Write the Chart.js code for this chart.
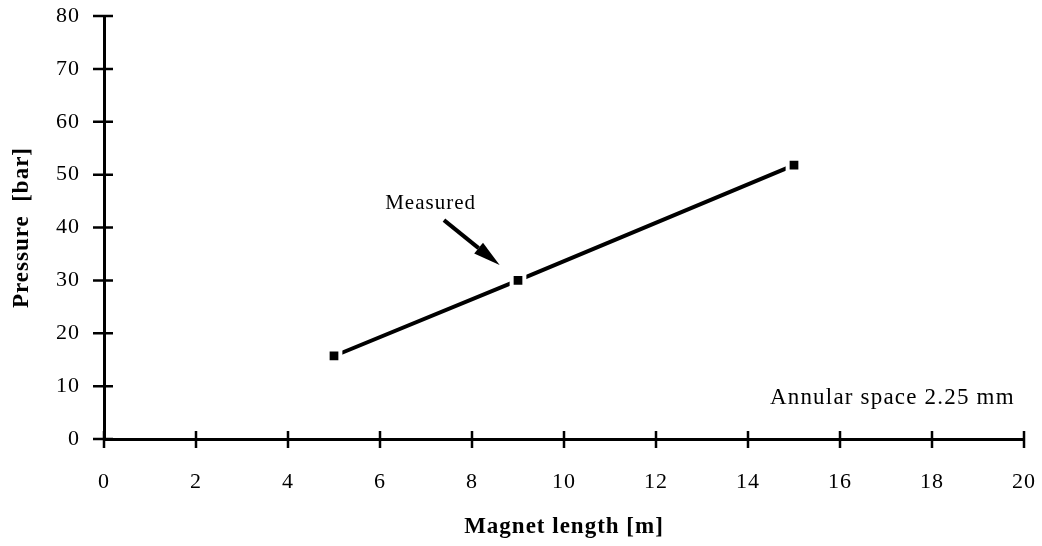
<!DOCTYPE html>
<html>
<head>
<meta charset="utf-8">
<script src="https://cdn.jsdelivr.net/npm/chart.js@4"></script>
<style>
  html, body { margin: 0; padding: 0; background: #fff; }
  #wrap { width: 1042px; height: 546px; }
</style>
</head>
<body>
<div id="wrap"><canvas id="pressure-chart"></canvas></div>
<script>
// magnet length [m] vs. pressure [bar]
const magnetLength = [5, 9, 15];
const pressure = [15.7, 30, 51.8];
const xTicks = [0, 2, 4, 6, 8, 10, 12, 14, 16, 18, 20];
const yTicks = [0, 10, 20, 30, 40, 50, 60, 70, 80];

const SERIF = '"Liberation Serif", "Times New Roman", serif';

// canvas state gets reset on resize, so re-apply the spacing before layout and draw
const spacing = {
  id: 'spacing',
  beforeUpdate(chart) { chart.ctx.letterSpacing = '1px'; },
  beforeDraw(chart) { chart.ctx.letterSpacing = '1px'; },
};

// ticks that cross both sides of the axis lines
const crossTicks = {
  id: 'crossTicks',
  afterDraw(chart) {
    const { ctx, scales: { x, y } } = chart;
    ctx.save();
    ctx.strokeStyle = '#000';
    ctx.lineWidth = 2.5;
    ctx.beginPath();
    xTicks.forEach(v => {
      const px = x.getPixelForValue(v);
      ctx.moveTo(px, y.bottom - 8);
      ctx.lineTo(px, y.bottom + 9);
    });
    yTicks.forEach(v => {
      const py = y.getPixelForValue(v);
      ctx.moveTo(x.left - 11, py);
      ctx.lineTo(x.left + 9, py);
    });
    ctx.stroke();
    ctx.restore();
  }
};

// "Measured" arrow and the annular space note
const notes = {
  id: 'notes',
  afterDraw(chart) {
    const { ctx, scales: { x, y } } = chart;
    ctx.save();
    ctx.letterSpacing = '1px';
    ctx.fillStyle = '#000';
    ctx.strokeStyle = '#000';
    ctx.textBaseline = 'middle';

    ctx.font = '21px ' + SERIF;
    ctx.textAlign = 'center';
    ctx.fillText('Measured', x.getPixelForValue(7.1), y.getPixelForValue(44.6));

    const x0 = x.getPixelForValue(7.39), y0 = y.getPixelForValue(41.4);
    const x1 = x.getPixelForValue(8.6), y1 = y.getPixelForValue(32.9);
    const ang = Math.atan2(y1 - y0, x1 - x0);
    const head = 27, half = 7;
    const bx = x1 - head * Math.cos(ang), by = y1 - head * Math.sin(ang);
    ctx.lineWidth = 4;
    ctx.beginPath();
    ctx.moveTo(x0, y0);
    ctx.lineTo(bx, by);
    ctx.stroke();
    ctx.beginPath();
    ctx.moveTo(x1, y1);
    ctx.lineTo(bx + half * Math.sin(ang), by - half * Math.cos(ang));
    ctx.lineTo(bx - half * Math.sin(ang), by + half * Math.cos(ang));
    ctx.closePath();
    ctx.fill();

    ctx.font = '23px ' + SERIF;
    ctx.letterSpacing = '1.2px';
    ctx.textAlign = 'right';
    ctx.fillText('Annular space 2.25 mm', x.getPixelForValue(19.8), y.getPixelForValue(7.7));
    ctx.restore();
  }
};

new Chart(document.getElementById('pressure-chart'), {
  type: 'line',
  data: {
    datasets: [{
      label: 'Measured',
      data: magnetLength.map((v, i) => ({ x: v, y: pressure[i] })),
      borderColor: '#000',
      borderWidth: 4,
      tension: 0,
      pointStyle: 'rect',
      pointRadius: 9,
      pointBackgroundColor: '#000',
      pointBorderColor: '#fff',
      pointBorderWidth: 4,
    }]
  },
  options: {
    responsive: true,
    maintainAspectRatio: false,
    animation: false,
    events: [],
    layout: { padding: { top: 16, right: 18, left: 0, bottom: 0 } },
    plugins: { legend: { display: false }, tooltip: { enabled: false } },
    scales: {
      x: {
        type: 'linear',
        min: 0, max: 20,
        afterFit(scale) { scale.height = 107; scale.paddingLeft = 0; scale.paddingRight = 0; },
        afterBuildTicks(scale) { scale.ticks = xTicks.map(v => ({ value: v })); },
        grid: { display: false, drawTicks: true, tickLength: 8 },
        border: { display: true, color: '#000', width: 3 },
        ticks: { color: '#000', padding: 22, font: { family: SERIF, size: 22 } },
        title: {
          display: true, text: 'Magnet length [m]', color: '#000',
          font: { family: SERIF, size: 23, weight: 'bold' },
          padding: { top: 0, bottom: 5 }
        }
      },
      y: {
        type: 'linear',
        min: 0, max: 80,
        afterFit(scale) { scale.width = 104; scale.paddingTop = 0; scale.paddingBottom = 0; },
        afterBuildTicks(scale) { scale.ticks = yTicks.map(v => ({ value: v })); },
        grid: { display: false, drawTicks: true, tickLength: 10 },
        border: { display: true, color: '#000', width: 3 },
        ticks: { color: '#000', padding: 14, font: { family: SERIF, size: 22 } },
        title: {
          display: true, text: 'Pressure  [bar]', color: '#000',
          font: { family: SERIF, size: 23, weight: 'bold' },
          padding: { top: 8, bottom: 0 }
        }
      }
    }
  },
  plugins: [spacing, crossTicks, notes]
});
</script>
</body>
</html>
